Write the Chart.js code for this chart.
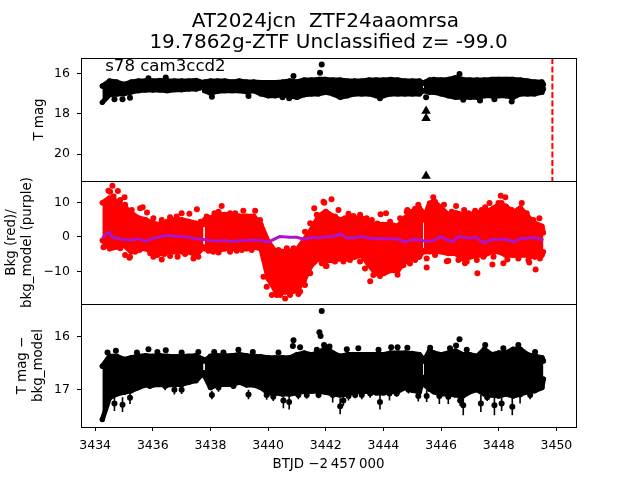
<!DOCTYPE html>
<html>
<head>
<meta charset="utf-8">
<title>AT2024jcn</title>
<script src="https://cdn.jsdelivr.net/npm/chart.js@4"></script>
<style>
  html, body { margin: 0; padding: 0; background: #fff; }
  canvas { position: absolute; left: 0; top: 0; }
</style>
</head>
<body>
<canvas id="magPanel" width="640" height="480"></canvas>
<canvas id="bkgPanel" width="640" height="480"></canvas>
<canvas id="diffPanel" width="640" height="480"></canvas>
<script>
// ==================== DATA ====================
const xTicks = [3434, 3436, 3438, 3440, 3442, 3444, 3446, 3448, 3450];
const magTicks = [16, 18, 20];
const bkgTicks = [10, 0, -10];
const diffTicks = [16, 17];
const xLimits = [3433.51, 3450.68];
const magLimits = [15.23, 21.33];
const bkgLimits = [-19.4, 16.2];
const diffLimits = [15.39, 17.7];

// edges of the dense point cloud, null marks the two data gaps
const cloudDays = [
  3434.25, 3434.5, 3434.75, 3435, 3435.25, 3435.5, 3435.75, 3436, 3436.25, 3436.5, 3436.75, 3437, 3437.25, 3437.5, 3437.76, 3437.78,
  3437.8, 3438, 3438.25, 3438.5, 3438.75, 3439, 3439.25, 3439.5, 3439.75, 3440, 3440.25, 3440.5, 3440.75, 3441, 3441.25, 3441.5, 3441.75,
  3442, 3442.25, 3442.5, 3442.75, 3443, 3443.25, 3443.5, 3443.75, 3444, 3444.25, 3444.5, 3444.75, 3445, 3445.25, 3445.38, 3445.39,
  3445.4, 3445.6, 3445.75, 3446, 3446.25, 3446.5, 3446.75, 3447, 3447.25, 3447.5, 3447.75, 3448, 3448.25, 3448.5, 3448.75, 3449, 3449.25, 3449.5, 3449.55
];
const magTop = [
  16.62, 16.37, 16.42, 16.54, 16.42, 16.37, 16.37, 16.37, 16.34, 16.37, 16.37, 16.37, 16.37, 16.34, 16.45, null,
  16.42, 16.37, 16.37, 16.37, 16.42, 16.37, 16.42, 16.42, 16.45, 16.45, 16.45, 16.42, 16.37, 16.42, 16.32, 16.32, 16.29,
  16.29, 16.32, 16.32, 16.37, 16.37, 16.37, 16.32, 16.32, 16.32, 16.29, 16.32, 16.37, 16.37, 16.37, 16.48, null,
  16.45, 16.32, 16.29, 16.32, 16.29, 16.21, 16.29, 16.32, 16.32, 16.32, 16.29, 16.29, 16.29, 16.29, 16.32, 16.37, 16.42, 16.42, 16.54
];
const magBottom = [
  17.43, 17.05, 17.02, 17.00, 16.92, 16.85, 16.82, 16.82, 16.82, 16.85, 16.80, 16.80, 16.77, 16.77, 16.68, null,
  16.85, 16.97, 16.88, 16.85, 16.85, 16.85, 16.90, 16.85, 17.01, 17.10, 17.10, 17.05, 17.10, 17.18, 17.05, 17.01, 17.01,
  16.93, 17.01, 17.18, 17.10, 17.01, 17.01, 17.01, 17.10, 17.10, 17.01, 17.01, 17.01, 17.01, 17.01, 16.85, null,
  16.85, 16.93, 16.93, 17.01, 17.10, 17.18, 17.18, 17.18, 17.18, 17.10, 17.10, 17.10, 17.10, 17.18, 17.01, 17.01, 17.01, 16.93, 16.77
];
const bkgTop = [
  9.9, 11.3, 10.3, 8.9, 7, 5.5, 5, 4, 3.6, 4.5, 5, 5, 4.5, 4, 3.6, null,
  5, 5.5, 6.5, 6.5, 6, 6, 6, 6, 3.6, -1.3, -4.2, -4.2, -4.2, -3.7, -0.8, 2.1, 6,
  7.4, 6, 5, 5.5, 5.5, 5.5, 4, 3.6, 3.6, 3.6, 3.1, 5.5, 7.4, 8.4, 7, null,
  5, 9.8, 10.3, 8.4, 6.5, 7, 6.5, 6.5, 7, 7.4, 7.9, 9.4, 8.9, 7, 8.4, 6, 4, 3.1, 1.2
];
const bkgBottom = [
  -1, -3.4, -2.9, -2.4, -4.3, -3.4, -3.4, -4.3, -4.8, -4.3, -4.3, -4.3, -4.3, -5.3, -2.9, null,
  -3.4, -3.9, -3.9, -3.4, -3.4, -3.4, -3.4, -2.9, -3.4, -12, -15.5, -16, -16, -15.5, -12.6, -8.2, -6.3,
  -6.8, -6.8, -6.3, -6.3, -5.8, -5.3, -8.2, -10.6, -10.6, -9.7, -9.7, -7.2, -6.3, -5.8, -4, null,
  -4.3, -4.3, -4.3, -4.3, -4.8, -4.8, -6.3, -5.8, -5.3, -5.3, -4.3, -4.3, -5.3, -5.3, -5.3, -5.3, -5.8, -5.3, -4.3
];
const diffTop = [
  16.56, 16.37, 16.37, 16.43, 16.40, 16.37, 16.36, 16.37, 16.36, 16.37, 16.38, 16.37, 16.37, 16.36, 16.43, null,
  16.46, 16.37, 16.36, 16.36, 16.36, 16.34, 16.36, 16.37, 16.38, 16.40, 16.40, 16.40, 16.40, 16.34, 16.31, 16.34, 16.31,
  16.21, 16.31, 16.37, 16.34, 16.34, 16.34, 16.34, 16.34, 16.34, 16.31, 16.31, 16.31, 16.32, 16.34, 16.42, null,
  16.46, 16.27, 16.31, 16.34, 16.31, 16.27, 16.34, 16.34, 16.37, 16.24, 16.34, 16.31, 16.31, 16.24, 16.24, 16.34, 16.37, 16.40, 16.46
];
const diffBottom = [
  17.56, 17.15, 17.08, 17.05, 17.02, 16.96, 16.91, 16.91, 16.90, 16.91, 16.90, 16.90, 16.86, 16.83, 16.68, null,
  16.74, 16.96, 16.90, 16.90, 16.90, 16.86, 16.91, 16.91, 16.96, 17.06, 17.06, 17.08, 17.08, 17.06, 17.03, 17.03, 17.03,
  17.05, 17.08, 17.10, 17.08, 17.04, 17.04, 17.03, 17.06, 17.06, 17.04, 17.03, 16.96, 17.01, 17.04, 16.77, null,
  16.90, 16.99, 17.04, 17.08, 17.08, 17.10, 17.12, 17.04, 17.00, 17.08, 17.10, 17.12, 17.08, 17.12, 17.08, 17.04, 17.02, 16.96, 16.80
];

// stray points outside the cloud
const magStrayDays = [3441.86, 3441.8, 3440.88, 3435.85, 3436.45, 3439.32, 3438.05, 3434.67, 3434.95, 3435.21, 3440.73, 3440.5, 3443.88, 3445.48, 3446.64, 3447.35, 3448.45, 3447.85, 3446.77];
const magStray = [15.55, 15.96, 16.12, 16.24, 16.2, 17.11, 17.15, 17.28, 17.28, 17.2, 17.23, 17.18, 17.23, 17.18, 16.02, 17.34, 17.39, 17.28, 17.3];
const limitDays = [3445.48, 3445.48, 3445.48];
const limitMags = [17.86, 18.22, 21.08];
const nowDay = 3449.86;

const bkgStrayDays = [3434.29, 3434.6, 3434.46, 3434.79, 3435.02, 3434.72, 3435.65, 3435.8, 3435.21, 3435.19, 3435.54, 3436.02, 3436.31, 3436.6, 3436.86, 3437, 3437.27, 3437.53, 3437.41, 3437.66, 3438.39, 3438.14, 3439.14, 3439.55, 3440.13, 3440.59, 3441.05, 3441.46, 3441.6, 3441.92, 3441.86, 3442.03,
  3441.95, 3442.2, 3442, 3442.44, 3442.79, 3443.54, 3443.88, 3443.9, 3444.09, 3444.49, 3444.83, 3445.21, 3445.5, 3445.5, 3445.73, 3446.1, 3446.52, 3446.8, 3446.25, 3446.83, 3447.26, 3447.53, 3447.68, 3447.78, 3448.07, 3448.23, 3447.99, 3448.16, 3448.8, 3448.3, 3449.06, 3449.41, 3449.28,
  // edge of the cloud, left half
  3434.87, 3435.04, 3435.39, 3435.91, 3436.16, 3436.4, 3437.12, 3437.58, 3437.93, 3438.1, 3438.28, 3438.68, 3438.91, 3439.09, 3439.43,
  3434.52, 3434.64, 3434.87, 3435.04, 3435.27, 3435.56, 3436.02, 3436.31, 3436.6, 3436.83, 3437.87, 3438.28, 3438.68, 3438.86, 3439.72, 3441.69, 3441.75, 3441.28, 3441.46,
  3440.36, 3440.65, 3440.88, 3441.17, 3441.28, 3441.11, 3440.3, 3439.95, 3439.84, 3440.42, 3440.76,
  // edge of the cloud, right half
  3442.32, 3442.67, 3442.96, 3443.19, 3443.42, 3443.6, 3443.79, 3444.23, 3444.58, 3444.81, 3445.1, 3445.56, 3445.79, 3446.37, 3446.95, 3447.18, 3447.41, 3447.82, 3448.1, 3448.45, 3448.68, 3448.97, 3449.2, 3449.49,
  3441.86, 3442.32, 3442.61, 3442.84, 3443.19, 3443.36, 3443.65, 3444.12, 3444.35, 3444.69, 3444.92, 3445.1, 3445.79, 3446.2, 3446.6, 3446.89, 3447.24, 3447.47, 3447.82, 3448.68, 3449.03, 3449.43];
const bkgStray = [-3, 14.8, 13.4, 13.3, 11.5, -2.1, 8.6, 7.1, -5.7, -6, -3.8, -5.7, -6.5, -5.5, -5.7, 6.9, 6.7, 8, -6.2, 4.4, 9, 6.9, 7.6, 7.6, -16.8, -17.8, -16.5, -10.5, 8.3, 10.2, -7.6, -8.4,
  9.9, 10.9, -8.4, 7.8, 6.7, -12.8, -11.3, 6.6, 6.9, -10.9, 7.8, 9.3, -6.2, -8.8, 11.5, 9.3, 9, 7.8, -6.9, -7.6, -10.5, 8.6, 9.8, -8, 11.9, 11.5, 9.8, -7.6, 9.8, -6.5, -7.4, 5.4, -9.4,
  -3.3, -5.2, -4.3, -4.7, -5.2, -4.9, -4.9, -5.7, -4, -4.3, -4.5, -4.3, -4, -3.8, -3.8,
  13.1, 11.7, 10.7, 9.3, 7.8, 8.3, 5.4, 4.9, 5.7, 5.9, 5.9, 7.3, 6.9, 6.9, 4.9, 6.4, 4.9, 1.5, 4,
  -3.8, -3.3, -3.3, -12.5, -13.9, -15.8, -16.8, -14.4, -11.5, -16.8, -16.8,
  5.9, 5.4, 6.1, 6.4, 5.4, 4.9, 3.9, 4.4, 5.4, 7.3, 8.2, 8.3, 10.2, 7.3, 6.9, 7.6, 7.8, 8.3, 9.8, 7.8, 7.8, 6.9, 4.9, 2,
  -6.2, -7.1, -7.1, -6.7, -7.1, -9.1, -11, -9.6, -9.6, -8.2, -7.7, -6.7, -5.2, -7, -6.7, -7.1, -6.7, -5.7, -5.7, -6.2, -6.7, -6.2];

const modelDays = [3434.25, 3434.4, 3434.5, 3434.6, 3434.75, 3435, 3435.25, 3435.5, 3435.75, 3436, 3436.25, 3436.5, 3436.75, 3437, 3437.25, 3437.5, 3437.75, 3438, 3438.25, 3438.5, 3438.75, 3439, 3439.25, 3439.5, 3439.75, 3440, 3440.2, 3440.4, 3440.75, 3441, 3441.25, 3441.5, 3441.75,
  3442, 3442.25, 3442.5, 3442.75, 3443, 3443.25, 3443.5, 3443.75, 3444, 3444.25, 3444.5, 3444.75, 3445, 3445.25, 3445.5, 3445.75, 3446, 3446.25, 3446.4, 3446.6, 3447, 3447.2, 3447.5, 3447.75, 3448, 3448.25, 3448.5, 3448.75, 3449, 3449.25, 3449.55];
const modelValues = [-0.4, 1, 1.3, -0.1, -0.4, -0.7, -0.9, -0.5, -1.3, -0.4, 0, 0.5, 0.3, 0.1, -0.1, -0.5, -0.7, -1.1, -1.2, -1, -1.3, -1.1, -1, -0.9, -1, -1.5, -0.7, 0.1, -0.1, -0.1, -0.7, -0.1, -0.3,
  0.1, 0.1, 0.8, -0.3, -0.3, 0.1, -0.3, -0.5, -0.5, -0.5, -0.6, -1.5, -0.7, -0.9, -1.3, -1, 0.1, -1, -1.3, 0.1, -0.3, 0, -1.8, -0.7, -0.7, -0.6, -1.4, -0.5, -0.4, -0.1, -1];

const diffStrayDays = [3441.86, 3441.78, 3441.82, 3440.88, 3440.86, 3435.85, 3436.45, 3434.72, 3437, 3446.64, 3446.52, 3444.27, 3444.49, 3448.68, 3441.94, 3442.13,
  3434.43, 3435.45, 3436.16, 3437.58, 3438.13, 3438.45, 3438.97, 3439.47, 3440.36, 3441.11, 3441.69, 3442.73, 3443.13, 3443.83, 3444.83, 3445.62, 3446.31, 3446.89, 3447.53, 3448.16, 3449.26];
const diffStray = [15.52, 15.92, 15.99, 16.07, 16.18, 16.24, 16.26, 16.27, 16.3, 16.05, 16.17, 16.2, 16.2, 16.16, 16.16, 16.19,
  16.3, 16.3, 16.29, 16.29, 16.29, 16.3, 16.25, 16.29, 16.3, 16.2, 16.25, 16.24, 16.22, 16.25, 16.21, 16.21, 16.22, 16.25, 16.16, 16.22, 16.29];
// faint points below the cloud with their error bars
const spikeDays = [3434.67, 3434.95, 3435.21, 3436.75, 3437, 3438.05, 3439.32, 3440.53, 3440.73, 3442.5, 3443.88, 3445.5, 3446.77, 3447.38, 3447.85, 3448.1, 3448.47, 3445.94, 3446.25, 3444.21, 3442.24, 3445.21, 3448.74,
  3435.43, 3435.9, 3436.43, 3438.28, 3438.8, 3439.95, 3440.18, 3441.05, 3441.34, 3441.75, 3442.61, 3442.79, 3443.02, 3443.25, 3443.54, 3444.46, 3444.87, 3446.66, 3447.6, 3449.09];
const spikeMags = [17.26, 17.28, 17.15, 17, 17, 17.1, 17.09, 17.2, 17.23, 17.31, 17.23, 17.12, 17.29, 17.26, 17.29, 17.26, 17.32, 17.12, 17.13, 17.07, 17.1, 17.12, 17.09,
  16.96, 16.93, 16.93, 16.96, 16.93, 17.1, 17.13, 17.1, 17.1, 17.1, 17.2, 17.12, 17.1, 17.1, 17.07, 17.07, 17, 17.2, 17.14, 17.1];
const spikeErrs = [0.14, 0.14, 0.12, 0.09, 0.08, 0.08, 0.09, 0.15, 0.14, 0.15, 0.14, 0.11, 0.19, 0.16, 0.19, 0.14, 0.16, 0.15, 0.14, 0.13, 0.14, 0.1, 0.17,
  0.05, 0.05, 0.08, 0.08, 0.05, 0.09, 0.08, 0.08, 0.07, 0.06, 0.1, 0.08, 0.06, 0.08, 0.08, 0.06, 0.07, 0.1, 0.07, 0.08];

const titleLines = ['AT2024jcn  ZTF24aaomrsa ', '19.7862g-ZTF Unclassified z= -99.0'];
const sectorLabel = 's78 cam3ccd2';

// ==================== HELPERS ====================
const FONT = '"DejaVu Sans"';
Chart.defaults.font.family = FONT;
Chart.defaults.color = '#000';

function pairs(xs, ys) {
    return xs.map((x, i) => ({ x: x, y: ys[i] }));
}

function cloudBand(top, bottom, color) {
    const edge = {
        type: 'scatter',
        showLine: true,
        borderColor: color,
        backgroundColor: color,
        borderWidth: 5,
        borderJoinStyle: 'round',
        borderCapStyle: 'round',
        pointRadius: 2.7,
        pointBorderWidth: 0,
        spanGaps: false,
        order: 5
    };
    return [
        Object.assign({}, edge, { data: pairs(cloudDays, top), fill: '+1' }),
        Object.assign({}, edge, { data: pairs(cloudDays, bottom), fill: false })
    ];
}

function strays(xs, ys, color) {
    return {
        type: 'scatter',
        data: pairs(xs, ys),
        backgroundColor: color,
        borderColor: color,
        pointRadius: 3,
        pointBorderWidth: 0,
        order: 4
    };
}

// black frame round the axes
const framePlugin = {
    id: 'frame',
    afterDraw(chart) {
        const a = chart.chartArea;
        const ctx = chart.ctx;
        ctx.save();
        ctx.strokeStyle = '#000';
        ctx.lineWidth = 1;
        ctx.strokeRect(Math.round(a.left) + 0.5, Math.round(a.top) + 0.5, Math.round(a.width), Math.round(a.height));
        ctx.restore();
    }
};

const sectorPlugin = {
    id: 'sector',
    afterDraw(chart) {
        const ctx = chart.ctx;
        ctx.save();
        ctx.font = '16.6px ' + FONT;
        ctx.fillStyle = '#000';
        ctx.textBaseline = 'alphabetic';
        ctx.fillText(sectorLabel, chart.scales.x.getPixelForValue(3434.35), chart.scales.y.getPixelForValue(15.85));
        ctx.restore();
    }
};

function makePanel(id, opts) {
    return new Chart(document.getElementById(id), {
        type: 'scatter',
        data: { datasets: opts.datasets },
        plugins: [framePlugin].concat(opts.plugins || []),
        options: {
            responsive: false,
            animation: false,
            devicePixelRatio: 1,
            events: [],
            layout: { padding: { left: 0, right: 64, top: opts.top, bottom: opts.bottom } },
            plugins: {
                legend: { display: false },
                tooltip: { enabled: false },
                title: opts.title || { display: false }
            },
            scales: {
                x: {
                    type: 'linear',
                    display: opts.showX === true,
                    min: xLimits[0],
                    max: xLimits[1],
                    afterBuildTicks: scale => { scale.ticks = xTicks.map(v => ({ value: v })); },
                    afterFit: scale => { scale.height = opts.showX === true ? 53 : 0; },
                    grid: { drawOnChartArea: false, tickLength: 4, tickColor: '#000' },
                    border: { display: false },
                    ticks: { autoSkip: false, maxRotation: 0, font: { size: 12.5 }, padding: 7, callback: v => String(v) },
                    title: { display: true, text: 'BTJD \u22122\u2009457\u2009000', font: { size: 13.4 }, padding: { top: 0, bottom: 7 } }
                },
                y: {
                    type: 'linear',
                    reverse: opts.reverse === true,
                    min: opts.limits[0],
                    max: opts.limits[1],
                    afterBuildTicks: scale => { scale.ticks = opts.ticks.map(v => ({ value: v })); },
                    afterFit: scale => { scale.width = 81; },
                    grid: { drawOnChartArea: false, tickLength: 4, tickColor: '#000' },
                    border: { display: false },
                    ticks: { font: { size: 12.5 }, padding: 7, callback: v => String(v).replace('-', '\u2212') },
                    title: { display: true, text: opts.yTitle, font: { size: 13.4 }, padding: opts.yTitlePad }
                }
            }
        }
    });
}

// ==================== PANELS ====================
makePanel('magPanel', {
    top: 0,
    bottom: 299,
    limits: magLimits,
    reverse: true,
    ticks: magTicks,
    yTitle: 'T mag',
    yTitlePad: { top: 31, bottom: 0 },
    plugins: [sectorPlugin],
    title: {
        display: true,
        fullSize: false,
        text: titleLines,
        font: { size: 20, weight: 'normal', lineHeight: 1.08 },
        color: '#000',
        padding: { top: 10.5, bottom: 4.3 }
    },
    datasets: cloudBand(magTop, magBottom, '#000').concat([
        strays(magStrayDays, magStray, '#000'),
        {
            type: 'scatter',
            data: pairs(limitDays, limitMags),
            pointStyle: 'triangle',
            pointRadius: 5.5,
            pointBorderWidth: 0,
            backgroundColor: '#000',
            borderColor: '#000',
            order: 3
        },
        {
            type: 'scatter',
            showLine: true,
            data: pairs([nowDay, nowDay], magLimits),
            borderColor: '#ff0000',
            borderWidth: 2,
            borderDash: [6, 2.5],
            pointRadius: 0,
            order: 2
        }
    ])
});

makePanel('bkgPanel', {
    top: 181,
    bottom: 176,
    limits: bkgLimits,
    ticks: bkgTicks,
    yTitle: ['Bkg (red)/', 'bkg_model (purple)'],
    yTitlePad: { top: 3, bottom: 0 },
    datasets: cloudBand(bkgTop, bkgBottom, '#ff0000').concat([
        strays(bkgStrayDays, bkgStray, '#ff0000'),
        {
            type: 'scatter',
            showLine: true,
            data: pairs(modelDays, modelValues),
            borderColor: '#ad14c8',
            backgroundColor: '#ad14c8',
            borderWidth: 3,
            pointRadius: 0,
            order: 1
        }
    ])
});

// error bars: two points per spike with a break between them
const spikeLines = [];
spikeDays.forEach((d, i) => {
    spikeLines.push({ x: d, y: spikeMags[i] - spikeErrs[i] });
    spikeLines.push({ x: d, y: spikeMags[i] + spikeErrs[i] });
    spikeLines.push({ x: d, y: null });
});

makePanel('diffPanel', {
    top: 304,
    bottom: 0,
    limits: diffLimits,
    reverse: true,
    showX: true,
    ticks: diffTicks,
    yTitle: ['T mag \u2212', 'bkg_model'],
    yTitlePad: { top: 14, bottom: 0 },
    datasets: cloudBand(diffTop, diffBottom, '#000').concat([
        strays(diffStrayDays, diffStray, '#000'),
        strays(spikeDays, spikeMags, '#000'),
        {
            type: 'scatter',
            showLine: true,
            data: spikeLines,
            borderColor: '#000',
            borderWidth: 1.6,
            pointRadius: 0,
            spanGaps: false,
            order: 4
        }
    ])
});
</script>
</body>
</html>
